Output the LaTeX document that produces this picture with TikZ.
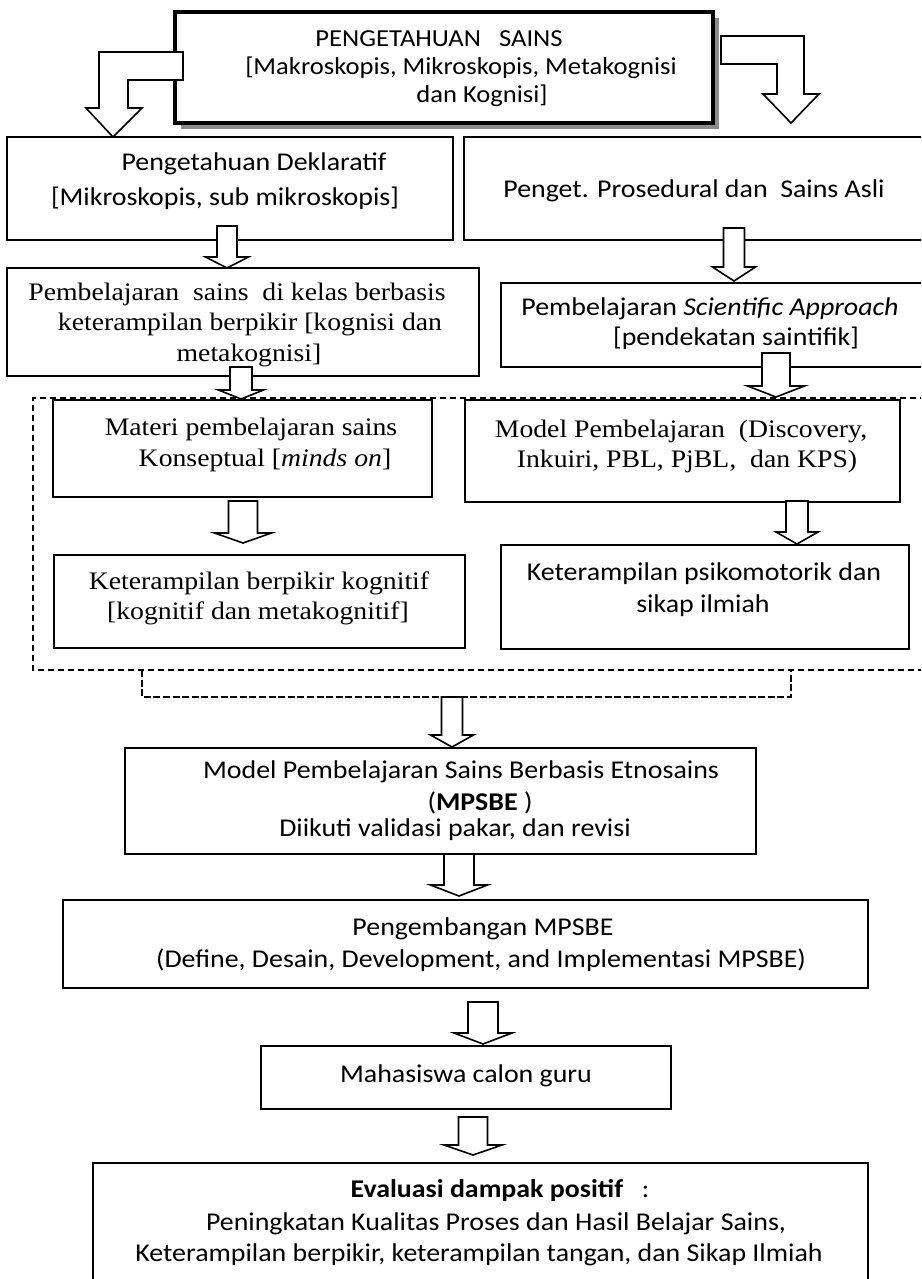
\documentclass[tikz,border=0pt]{standalone}
\usepackage{fontspec}
\setmainfont{Carlito}
\newfontfamily\sansf[FakeStretch=1.09]{Carlito}
\newfontfamily\seriff[FakeStretch=1.1]{Liberation Serif}
\usetikzlibrary{calc,shadows}

\tikzset{
  box/.style={draw=black, line width=0.8pt, fill=white, inner sep=0pt, outer sep=0pt},
  topbox/.style={line width=2pt, drop shadow={shadow xshift=3pt, shadow yshift=-3pt, fill=black!45, opacity=1}},
  blockarr/.style={draw=black, line width=0.8pt, fill=white, line join=miter},
  st/.style={font=\sansf\fontsize{12.8}{15}\selectfont, anchor=base, inner sep=0pt},
  stt/.style={font=\sansf\fontsize{12.2}{14}\selectfont, anchor=base, inner sep=0pt},
  sr/.style={font=\seriff\fontsize{12.6}{15}\selectfont, anchor=base, inner sep=0pt},
  dashframe/.style={draw=black, line width=0.65pt, dash pattern=on 3pt off 2pt},
  dashbrk/.style={draw=black, line width=1.3pt, dash pattern=on 3.5pt off 1.3pt}
}

% box: [style]{name}{x1}{y1}{x2}{y2}  (pixel units, y downwards)
\newcommand\bx[6][]{\node[box,#1,minimum width={(#5-#3)*0.5pt},minimum height={(#6-#4)*0.5pt}] (#2) at ({(#3+#5)/2},{(#4+#6)/2}) {};}

% block arrow: {name}{from}{to}{x}{shaft half w}{head half w}{head h}{top offset}{tip gap}
\newcommand\dnarrow[9]{%
  \coordinate (#1s) at (#4,0 |- #2);
  \coordinate (#1t) at (#4,0 |- #3);
  \draw[blockarr] ($(#1s)+({-(#5)},{-(#8)})$) -- ($(#1t)+({-(#5)},{-(#7)-(#9)})$) -- ($(#1t)+({-(#6)},{-(#7)-(#9)})$) -- ($(#1t)+(0,{-(#9)})$) -- ($(#1t)+({#6},{-(#7)-(#9)})$) -- ($(#1t)+({#5},{-(#7)-(#9)})$) -- ($(#1s)+({#5},{-(#8)})$) -- cycle;}

\begin{document}
\begin{tikzpicture}[x=0.5pt,y=-0.5pt]
\useasboundingbox (0,0) rectangle (921,1279);
\fill[white] (0,0) rectangle (921,1279);
\clip (0,0) rectangle (921,1279);

% ---- boxes ----
\bx{dek}{7}{137}{453}{240}
\bx{pros}{464}{137}{926}{240}
\bx{pbs}{7}{268}{479}{376}
\bx{sci}{501}{283}{926}{367}
\bx{mat}{53}{400}{432}{497}
\bx{mod}{465}{400}{900}{502}
\bx{kbk}{54}{555}{465}{648}
\bx{psi}{501}{545}{909}{649}
\bx{mps}{125}{748}{756}{854}
\bx{pgb}{63}{900}{868}{988}
\bx{mhs}{261}{1046}{671}{1109}
\bx{eva}{93}{1163}{868}{1290}

% ---- dashed group frame and bracket ----
\draw[dashframe] (926,398) -- (33,398) -- (33,670) -- (926,670);
\draw[dashbrk] (142,670) -- (142,697) -- (791,697) -- (791,670);
\coordinate (brk) at (452,697);

% ---- top box ----
\bx[topbox]{top}{175}{12}{713}{123}

% bent arrows from the top box
\draw[blockarr] ($(top.west)+(8,-15.5)$) -- (99,52) -- (99,108) -- (86,108) -- (113,0 |- dek.north) -- (142,108) -- (128,108) -- (128,80) -- ($(top.west)+(8,12.5)$) -- cycle;
\draw[blockarr] ($(top.east)+(8,-31.5)$) -- (804,36) -- (804,94) -- (819,94) -- (791,123) -- (763,94) -- (777,94) -- (777,64) -- ($(top.east)+(8,-3.5)$) -- cycle;

% ---- straight block arrows ----
\dnarrow{a1}{dek.south}{pbs.north}{227}{10}{21.5}{11}{14}{0}
\dnarrow{a2}{pros.south}{sci.north}{734}{10.5}{21.5}{14}{12}{2}
\dnarrow{a3}{pbs.south}{mat.north}{241}{11}{22.5}{9}{9}{1}
\dnarrow{a4}{sci.south}{mod.north}{776}{14}{28.5}{11}{14}{3}
\dnarrow{a5}{mat.south}{kbk.north}{243}{14.5}{28.5}{10}{-4}{12}
\dnarrow{a6}{mod.south}{psi.north}{797}{11}{21}{12}{1}{1}
\dnarrow{a7}{brk}{mps.north}{452}{10.5}{21.5}{12}{0}{1}
\dnarrow{a8}{mps.south}{pgb.north}{459}{15}{28.5}{11}{0}{4}
\dnarrow{a9}{pgb.south}{mhs.north}{483}{15}{29}{11}{-14}{2}
\dnarrow{a10}{mhs.south}{eva.north}{473}{14.5}{29}{10}{-8}{8}

% ---- texts ----
\node[stt] (t1) at (439,47) {PENGETAHUAN\ \ \ SAINS};
\node[stt] (t2) at (461,75) {[Makroskopis, Mikroskopis, Metakognisi};
\node[stt] (t3) at (482,103) {dan Kognisi]};

\node[st] (d1) at (254,170) {Pengetahuan Deklaratif};
\node[st] (d2) at (225,205) {[Mikroskopis, sub mikroskopis]};

\node[st] (p1) at (694,197) {Penget. Prosedural dan\ \ Sains Asli};

\node[sr] (b1) at (237,300) {Pembelajaran\ \ sains\ \ di kelas berbasis};
\node[sr] (b2) at (250,330) {keterampilan berpikir [kognisi dan};
\node[sr] (b3) at (249,361) {metakognisi]};

\node[st] (s1) at (710,315) {Pembelajaran \textit{Scientific Approach}};
\node[st] (s2) at (736,345) {[pendekatan saintifik]};

\node[sr] (m1) at (251,435) {Materi pembelajaran sains};
\node[sr] (m2) at (265,466) {Konseptual [\textit{minds on}]};

\node[sr] (o1) at (681,437) {Model Pembelajaran\ \ (Discovery,};
\node[sr] (o2) at (687,467) {Inkuiri, PBL, PjBL,\ \ dan KPS)};

\node[sr] (k1) at (259,589) {Keterampilan berpikir kognitif};
\node[sr] (k2) at (258,619) {[kognitif dan metakognitif]};

\node[st] (q1) at (704,580) {Keterampilan psikomotorik dan};
\node[st] (q2) at (703,612) {sikap ilmiah};

\node[st] (e1) at (461,778) {Model Pembelajaran Sains Berbasis Etnosains};
\node[st] (e2) at (480,810) {(\textbf{MPSBE} )};
\node[st] (e3) at (455,836) {Diikuti validasi pakar, dan revisi};

\node[st] (g1) at (483,935) {Pengembangan MPSBE};
\node[st] (g2) at (481,967) {(Define, Desain, Development, and Implementasi MPSBE)};

\node[st] (h1) at (466,1082) {Mahasiswa calon guru};

\node[st] (v1) at (500,1197) {\textbf{Evaluasi dampak positif}\ \ \ :};
\node[st] (v2) at (496,1230) {Peningkatan Kualitas Proses dan Hasil Belajar Sains,};
\node[st] (v3) at (479,1261) {Keterampilan berpikir, keterampilan tangan, dan Sikap Ilmiah};
\end{tikzpicture}
\end{document}
